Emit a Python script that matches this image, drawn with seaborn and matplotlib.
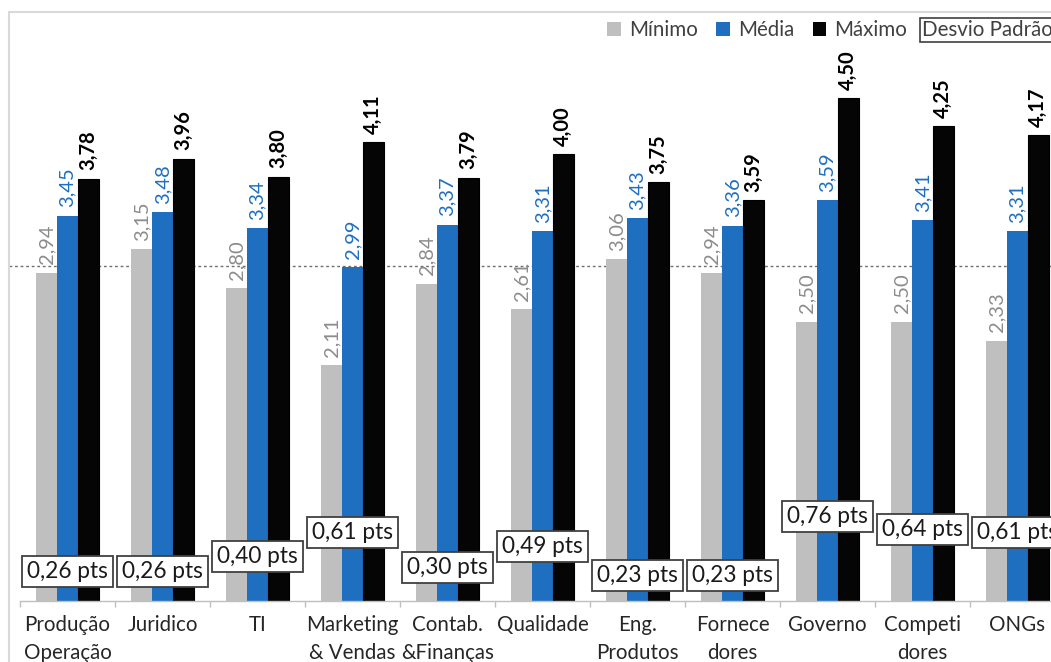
import matplotlib
matplotlib.use("Agg")
import matplotlib.pyplot as plt
from matplotlib.patches import Rectangle
import seaborn as sns
import pandas as pd

categories = ["Produção\nOperação", "Juridico", "TI", "Marketing\n& Vendas", "Contab.\n&Finanças",
              "Qualidade", "Eng.\nProdutos", "Fornece\ndores", "Governo", "Competi\ndores", "ONGs"]
minimo = [2.94, 3.15, 2.80, 2.11, 2.84, 2.61, 3.06, 2.94, 2.50, 2.50, 2.33]
media = [3.45, 3.48, 3.34, 2.99, 3.37, 3.31, 3.43, 3.36, 3.59, 3.41, 3.31]
maximo = [3.78, 3.96, 3.80, 4.11, 3.79, 4.00, 3.75, 3.59, 4.50, 4.25, 4.17]
desvio = [0.26, 0.26, 0.40, 0.61, 0.30, 0.49, 0.23, 0.23, 0.76, 0.64, 0.61]
series = ["Mínimo", "Média", "Máximo"]
reference_level = 3.0

sns.set_theme(style="white")
plt.rcParams["font.family"] = ["Lato", "DejaVu Sans"]

rows = []
for name, vals in zip(series, [minimo, media, maximo]):
    for c, v in zip(categories, vals):
        rows.append({"Categoria": c, "Série": name, "Valor": v})
df = pd.DataFrame(rows)

colors = {"Mínimo": "#BFBFBF", "Média": "#1F6FC0", "Máximo": "#050505"}
label_colors = ["#8C8C8C", "#1F6FC0", "#000000"]

W, H = 1051, 662
fig = plt.figure(figsize=(W / 100, H / 100), dpi=100)
ax = fig.add_axes([20 / W, (H - 601) / H, 1045 / W, 592 / H])

sns.barplot(data=df, x="Categoria", y="Valor", hue="Série", order=categories,
            hue_order=series, palette=colors, width=0.66, saturation=1,
            legend=True, ax=ax, edgecolor="none")

for patch in ax.containers[2]:
    patch.set_edgecolor("#000000")
    patch.set_linewidth(0.8)

for cont, vals, col in zip(ax.containers, [minimo, media, maximo], label_colors):
    ax.bar_label(cont, labels=[f"{v:.2f}".replace(".", ",") for v in vals],
                 rotation=90, padding=6, fontsize=14.5, color=col,
                 fontweight="bold" if col == "#000000" else "normal")

for i, s in enumerate(desvio):
    ax.text(i, s, f"{s:.2f} pts".replace(".", ","), ha="center", va="center",
            fontsize=16.3, color="#1a1a1a",
            bbox=dict(boxstyle="square,pad=0.22", fc="white", ec="#404040", lw=1.3))

ax.axhline(reference_level, xmin=-11 / 1045, xmax=1, color="#6f6f6f", lw=1,
           ls=(0, (2, 2)), clip_on=False, zorder=0.5)

ax.set_xlim(-0.5, len(categories) - 0.5)
ax.set_ylim(0, 5.3)
ax.set_xlabel("")
ax.set_ylabel("")
ax.set_yticks([])
for sp in ["left", "top", "right"]:
    ax.spines[sp].set_visible(False)
ax.spines["bottom"].set_color("#BFBFBF")
ax.spines["bottom"].set_linewidth(1)
ax.set_xticks(range(len(categories)))
ax.set_xticklabels(categories, fontsize=14.8, color="#262626", linespacing=1.5)
ax.set_xticks([i - 0.5 for i in range(len(categories) + 1)], minor=True)
ax.tick_params(axis="x", which="major", length=0, pad=10)
ax.tick_params(axis="x", which="minor", length=4.5, color="#BFBFBF", width=1, direction="out", bottom=True)

handles, labels = ax.get_legend_handles_labels()
ax.legend_.remove()
fig.legend(handles, labels, loc="center right", bbox_to_anchor=(907 / W, 1 - 30 / H),
           bbox_transform=fig.transFigure, ncol=3, frameon=False, fontsize=14.8,
           handlelength=0.65, handleheight=0.65, handletextpad=0.4, columnspacing=0.9,
           borderpad=0, borderaxespad=0, labelcolor="#404040")
fig.text(922 / W, 1 - 30 / H, "Desvio Padrão", ha="left", va="center", fontsize=14.8,
         color="#404040",
         bbox=dict(boxstyle="square,pad=0.12", fc="white", ec="#404040", lw=1.2))

fig.patches.append(Rectangle((8.5 / W, -0.1), 1.2, 1.1 - 11.7 / H, transform=fig.transFigure,
                             fill=False, edgecolor="#D9D9D9", lw=1.5, zorder=0))

fig.savefig("out.png", dpi=100)
